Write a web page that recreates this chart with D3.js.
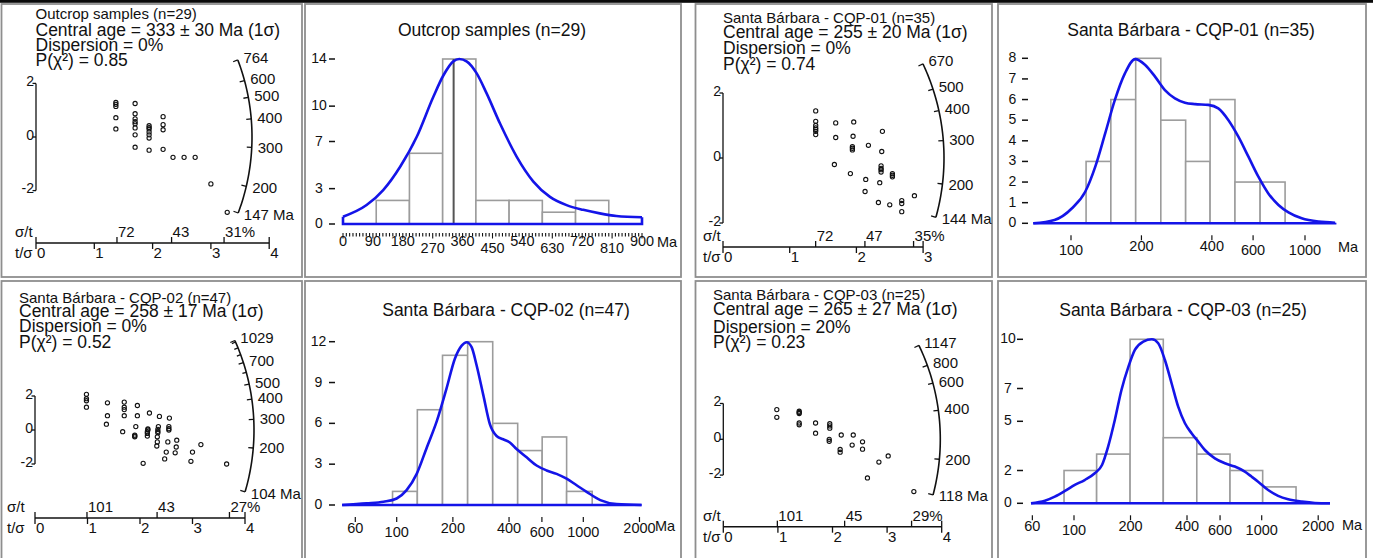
<!DOCTYPE html>
<html><head><meta charset="utf-8">
<script src="https://cdn.jsdelivr.net/npm/d3@7"></script>
<style>
html,body{margin:0;padding:0;background:#fff;overflow:hidden;}
svg{display:block;font-family:"Liberation Sans",Arial,Helvetica,sans-serif;}
</style></head><body>
<svg id="chart" width="1373" height="558"></svg>
<script>
// ===================== DATA =====================
// --- Outcrop samples ---
const outcropTitle = "Outcrop samples (n=29)";
const outcropStats = ["Central age = 333 ± 30 Ma (1σ)", "Dispersion = 0%", "P(χ²) = 0.85"];
const outcropCentral = 333;
const outcropPrecMax = 4;
const outcropSigmaTicks = [72, 43, 31];
const outcropArcTicks = [764, 600, 500, 400, 300, 200, 147];
const outcropArcMinor = [];
const outcropPrecision = [1.37,1.37,1.37,1.37,1.37, 1.70,1.70,1.70,1.70,1.70,1.70,1.70,1.70, 1.94,1.94,1.94,1.94,1.94,1.94,1.94, 2.18,2.18,2.18,2.18, 2.35,2.54,2.73,3.00,3.28];
const outcropStdEst = [1.29,1.22,1.14,0.72,0.30, 1.25,0.87,0.68,0.57,0.49,0.34,0.08,-0.38, 0.42,0.35,0.30,0.19,0.08,-0.04,-0.49, 0.76,0.46,0.27,-0.46, -0.76,-0.76,-0.76,-1.75,-2.81];
const outcropBinEdges = [100, 200, 300, 400, 500, 600, 700, 800];
const outcropCounts = [2, 6, 14, 2, 2, 1, 2];
const outcropCurveAge = [0, 71, 121, 172, 222, 272, 302, 332, 350, 372, 402, 432, 473, 523, 573, 623, 673, 723, 773, 823, 900];
const outcropCurveFreq = [0.62, 1.61, 2.88, 4.86, 7.40, 10.8, 12.6, 13.8, 14.0, 13.8, 12.8, 11.1, 8.5, 5.7, 3.6, 2.3, 1.6, 1.2, 0.9, 0.68, 0.57];
const outcropYTicks = [0, 3, 7, 10, 14];
const outcropXTicks = [0, 90, 180, 270, 360, 450, 540, 630, 720, 810, 900];

// --- Santa Bárbara - CQP-01 ---
const cqp01Title = "Santa Bárbara - CQP-01 (n=35)";
const cqp01Stats = ["Central age = 255 ± 20 Ma (1σ)", "Dispersion = 0%", "P(χ²) = 0.74"];
const cqp01Central = 255;
const cqp01PrecMax = 3;
const cqp01SigmaTicks = [72, 47, 35];
const cqp01ArcTicks = [670, 500, 400, 300, 200, 144];
const cqp01ArcMinor = [];
const cqp01Precision = [1.39,1.39,1.39,1.39,1.39,1.39,1.39, 1.69,1.69,1.67, 1.96,1.95,1.94,1.94,1.94,1.91, 2.18,2.14,2.13, 2.39,2.38,2.37,2.37,2.37,2.37,2.35,2.33, 2.54,2.54,2.54, 2.50, 2.68,2.68,2.68, 2.87];
const cqp01StdEst = [1.45,1.13,1.00,0.93,0.88,0.82,0.72, 1.08,0.63,-0.20, 1.11,0.67,0.35,0.30,0.25,-0.48, 0.39,-0.66,-1.03, 0.82,0.20,-0.24,-0.32,-0.36,-0.43,-0.76,-1.37, -0.48,-0.53,-0.58, -1.44, -1.31,-1.40,-1.65, -1.16];
const cqp01BinEdges = [116, 148, 189, 242, 309, 393, 502, 643, 822];
const cqp01Counts = [3, 6, 8, 5, 3, 6, 2, 2];
const cqp01CurveAge = [69, 85, 101, 115, 127, 140, 154, 170, 188, 207, 229, 252, 278, 307, 339, 386, 426, 470, 519, 573, 632, 697, 770, 850, 968, 1143, 1345];
const cqp01CurveFreq = [0, 0.16, 0.73, 1.53, 2.75, 4.36, 5.98, 7.27, 7.96, 7.69, 7.1, 6.46, 6.06, 5.85, 5.78, 5.74, 5.57, 5.01, 4.2, 3.23, 2.26, 1.45, 0.89, 0.53, 0.24, 0.08, 0.03];
const cqp01YTicks = [0, 1, 2, 3, 4, 5, 6, 7, 8];
const cqp01XTicks = [100, 200, 400, 600, 1000];

// --- Santa Bárbara - CQP-02 ---
const cqp02Title = "Santa Bárbara - CQP-02 (n=47)";
const cqp02Stats = ["Central age = 258 ± 17 Ma (1σ)", "Dispersion = 0%", "P(χ²) = 0.52"];
const cqp02Central = 258;
const cqp02PrecMax = 4;
const cqp02SigmaTicks = [101, 43, 27];
const cqp02ArcTicks = [1029, 700, 500, 400, 300, 200, 104];
const cqp02ArcMinor = [1000, 900, 800, 600];
const cqp02Precision = [0.98,0.98,0.98,0.98, 1.38,1.38,1.36, 1.70,1.70,1.70,1.70,1.67, 1.95,1.95,1.92,1.90,1.90,1.90, 2.18,2.15,2.15,2.14,2.14,2.14,2.06, 2.37,2.35,2.34,2.34,2.34,2.33,2.33,2.32,2.47, 2.56,2.55,2.55,2.55,2.53,2.50, 2.70,2.69,2.67, 3.00,2.97, 3.16, 3.65];
const cqp02StdEst = [2.10,1.84,1.72,1.34, 1.60,0.84,0.34, 1.64,1.34,1.20,0.84,-0.10, 1.44,0.84,0.20,-0.30,-0.35,-0.40, 1.00,0.06,0.00,-0.10,-0.20,-0.36,-1.96, 0.80,0.20,0.04,-0.08,-0.16,-0.40,-0.70,-0.94,-1.70, 0.70,0.20,0.08,0.00,-0.70,-1.30, -0.60,-1.00,-1.34, -1.30,-1.84, -0.86, -2.00];
const cqp02BinEdges = [95, 129, 176, 240, 327, 445, 602, 814, 1116];
const cqp02Counts = [1, 7, 11, 12, 6, 4, 5, 1];
const cqp02CurveAge = [51, 69, 85, 100, 113, 128, 145, 164, 185, 205, 223, 237, 252, 268, 291, 316, 343, 372, 404, 439, 497, 562, 636, 719, 814, 921, 1042, 1233, 1508, 2052];
const cqp02CurveFreq = [0, 0.12, 0.24, 0.48, 1.09, 2.29, 4.23, 6.16, 8.57, 10.75, 11.71, 11.96, 11.6, 10.27, 8.09, 5.92, 5.07, 4.83, 4.59, 4.11, 3.5, 2.9, 2.54, 2.29, 1.93, 1.45, 0.97, 0.36, 0.07, 0];
const cqp02YTicks = [0, 3, 6, 9, 12];
const cqp02XTicks = [60, 100, 200, 400, 600, 1000, 2000];

// --- Santa Bárbara - CQP-03 ---
const cqp03Title = "Santa Bárbara - CQP-03 (n=25)";
const cqp03Stats = ["Central age = 265 ± 27 Ma (1σ)", "Dispersion = 20%", "P(χ²) = 0.23"];
const cqp03Central = 265;
const cqp03PrecMax = 4;
const cqp03SigmaTicks = [101, 45, 29];
const cqp03ArcTicks = [1147, 800, 600, 400, 200, 118];
const cqp03ArcMinor = [];
const cqp03Precision = [0.98,0.98, 1.39,1.39,1.39,1.39,1.39, 1.69,1.69, 1.95,1.95,1.95,1.94,1.94, 2.16,2.14,2.14, 2.38,2.36, 2.55,2.55, 2.64, 2.85, 3.02, 3.49];
const cqp03StdEst = [1.66,1.23, 1.57,1.50,1.44,0.91,0.81, 0.91,0.34, 0.87,0.75,0.62,0.00,-0.11, 0.24,-0.57,-0.72, 0.24,-0.32, -0.14,-0.55, -2.16, -1.27, -0.93, -2.92];
const cqp03BinEdges = [88.5, 132, 199, 299, 451, 678, 1012, 1524];
const cqp03Counts = [2, 3, 10, 4, 3, 2, 1];
const cqp03CurveAge = [59, 70, 79, 90, 101, 114, 129, 141, 152, 165, 179, 195, 211, 234, 260, 281, 305, 331, 359, 390, 423, 459, 498, 563, 637, 719, 813, 882, 957, 1082, 1223, 1383, 1635, 1922, 2311];
const cqp03CurveFreq = [0, 0.16, 0.41, 0.77, 1.12, 1.42, 1.83, 2.34, 3.46, 5.08, 6.91, 8.33, 9.35, 9.86, 10, 9.76, 8.74, 7.32, 5.89, 4.88, 4.27, 3.76, 3.25, 2.74, 2.44, 2.24, 1.93, 1.63, 1.32, 0.81, 0.45, 0.24, 0.10, 0.02, 0];
const cqp03YTicks = [0, 2, 5, 7, 10];
const cqp03XTicks = [60, 100, 200, 400, 600, 1000, 2000];

// ===================== DRAWING =====================
const svg = d3.select("#chart");
const INK = "#111";
const BLUE = "#1414e8";

svg.append("rect").attr("x", 0).attr("y", 0).attr("width", 1373).attr("height", 2.8).attr("fill", "#0a0a0a");

const frames = [[1.5,4,302,277],[305,4,681,277],[695.5,4,992,277],[998,4,1366,277],
                [1.5,281,302,565],[305,281,681,565],[695.5,281,992,565],[998,281,1366,565]];
frames.forEach(f => svg.append("rect").attr("x", f[0]).attr("y", f[1]).attr("width", f[2]-f[0]).attr("height", f[3]-f[1])
  .attr("fill", "none").attr("stroke", "#8e8e8e").attr("stroke-width", 1.8));

function txt(g, x, y, s, size, anchor) {
  return g.append("text").attr("x", x).attr("y", y).attr("font-size", size).attr("fill", INK)
    .attr("text-anchor", anchor || "start").text(s);
}
function seg(g, x1, y1, x2, y2, w, col) {
  return g.append("line").attr("x1", x1).attr("y1", y1).attr("x2", x2).attr("y2", y2)
    .attr("stroke", col || INK).attr("stroke-width", w || 1.3);
}

function drawRadial(L, D) {
  const g = svg.append("g");
  const x = d3.scaleLinear().domain([0, D.precMax]).range([L.ox, L.ox + D.precMax * L.kx]);
  const y = d3.scaleLinear().domain([-2, 2]).range([L.oy + 2 * L.ky, L.oy - 2 * L.ky]);
  txt(g, L.tx, L.ty[0], D.title, 15);
  D.stats.forEach((s, i) => txt(g, L.tx, L.ty[i + 1], s, 17.5));
  // z axis
  seg(g, x(0), y(2), x(0), y(-2), 1.3);
  [2, 0, -2].forEach(v => {
    seg(g, x(0) - 3.5, y(v), x(0), y(v), 1.3);
    txt(g, x(0) - 2, y(v) + 2.5, String(v), 14, "end");
  });
  // precision axis
  seg(g, x(0), L.ay, x(D.precMax), L.ay, 1.5);
  d3.range(0, D.precMax + 1).forEach(v => {
    const end = (v === 0 || v === D.precMax);
    seg(g, x(v), end ? L.ay - 6 : L.ay, x(v), L.ay + 6, 1.3);
    txt(g, x(v) + 1, L.ay + 15, String(v), 15);
  });
  D.sigmaTicks.forEach((s, i) => {
    const xv = x(100 / s);
    seg(g, xv, L.ay - 6, xv, L.ay, 1.3);
    txt(g, xv + 1, L.ay - 6, i === D.sigmaTicks.length - 1 ? s + "%" : String(s), 15);
  });
  txt(g, L.sx, L.ay - 6, "σ/t", 15);
  txt(g, L.sx, L.ay + 15, "t/σ", 15);
  // age arc
  const z0 = Math.log(D.central);
  const ang = t => Math.atan2(y(0) - y(Math.log(t) - z0), x(1) - x(0));
  const a0 = ang(d3.max(D.arcTicks)), a1 = ang(d3.min(D.arcTicks));
  const arcPts = d3.range(0, 1.0001, 0.02).map(f => {
    const a = a0 + (a1 - a0) * f;
    return [x(0) + L.R * Math.cos(a), y(0) - L.R * Math.sin(a)];
  });
  g.append("path").attr("d", d3.line()(arcPts)).attr("fill", "none").attr("stroke", INK).attr("stroke-width", 1.6);
  const tick = (t, len) => {
    const a = ang(t);
    seg(g, x(0) + (L.R - len) * Math.cos(a), y(0) - (L.R - len) * Math.sin(a),
           x(0) + L.R * Math.cos(a), y(0) - L.R * Math.sin(a), 1.3);
    return a;
  };
  D.arcMinor.forEach(t => tick(t, 4));
  const tMin = d3.min(D.arcTicks);
  D.arcTicks.forEach(t => {
    const a = tick(t, 5);
    txt(g, x(0) + (L.R + 6) * Math.cos(a), y(0) - (L.R + 6) * Math.sin(a) + 5,
        t === tMin ? t + " Ma" : String(t), 15);
  });
  // points
  g.selectAll("circle.pt").data(D.prec.map((p, i) => [p, D.est[i]])).enter().append("circle")
    .attr("cx", d => x(d[0])).attr("cy", d => y(d[1])).attr("r", 2.1)
    .attr("fill", "none").attr("stroke", INK).attr("stroke-width", 1.1);
}

function drawHist(L, D) {
  const g = svg.append("g");
  const x = (D.log ? d3.scaleLog() : d3.scaleLinear()).domain(L.xd).range(L.xr);
  const y = d3.scaleLinear().domain([0, d3.max(D.yTicks)]).range([L.base, L.top]);
  txt(g, L.titleX, L.titleY, D.title, 17.5, "middle");
  // bars
  D.counts.forEach((c, i) => {
    g.append("rect").attr("x", x(D.edges[i])).attr("y", y(c))
      .attr("width", x(D.edges[i + 1]) - x(D.edges[i])).attr("height", y(0) - y(c))
      .attr("fill", "#fff").attr("stroke", "#9c9c9c").attr("stroke-width", 1.6);
  });
  if (D.centralLine) seg(g, x(D.centralLine), y(d3.max(D.counts)), x(D.centralLine), y(0), 2, "#555");
  // curve
  const pts = D.curveAge.map((a, i) => [x(a), y(D.curveFreq[i])]);
  g.append("path").attr("d", d3.line().curve(d3.curveMonotoneX)(pts))
    .attr("fill", "none").attr("stroke", BLUE).attr("stroke-width", 2.6);
  const last = pts[pts.length - 1];
  g.append("path").attr("d", d3.line()([pts[0], [pts[0][0], y(0)], [last[0], y(0)], last]))
    .attr("fill", "none").attr("stroke", BLUE).attr("stroke-width", 2.6);
  // y ticks
  D.yTicks.forEach(v => {
    seg(g, L.dash[0], y(v), L.dash[1], y(v), 1.5);
    txt(g, L.yLabX, y(v) + 4, String(v), 14, "middle");
  });
  // x ticks
  if (D.log) {
    D.xTicks.forEach(v => {
      seg(g, x(v), L.base + 12, x(v), L.base + 17, 1.2);
      const low = (v === 100 || v === 600 || v === 1000) ? 3.5 : 0;
      txt(g, x(v), L.base + 28 + low, String(v), 14.5, "middle");
    });
  } else {
    d3.range(L.xd[0], L.xd[1] + 1, 10).forEach(v => {
      const major = D.xTicks.indexOf(v) >= 0;
      seg(g, x(v), L.base + 9, x(v), L.base + (major ? 14.5 : 12.5), 1.1);
    });
    D.xTicks.forEach((v, i) => {
      const low = (i >= 3 && i % 2 === 1) ? 7 : 0;
      txt(g, x(v), L.base + 22 + low, String(v), 14.5, "middle");
    });
  }
  txt(g, L.maX, L.maY, "Ma", 14.5);
}

// ---- layouts (pixel positions) ----
drawRadial({ox: 36, oy: 137, kx: 58.3, ky: 26.8, ay: 243, R: 216, tx: 35.5, ty: [19.3, 36, 50.7, 65.7], sx: 15},
  {title: outcropTitle, stats: outcropStats, central: outcropCentral, precMax: outcropPrecMax, sigmaTicks: outcropSigmaTicks,
   arcTicks: outcropArcTicks, arcMinor: outcropArcMinor, prec: outcropPrecision, est: outcropStdEst});
drawRadial({ox: 723, oy: 158, kx: 66.7, ky: 32.5, ay: 247, R: 221, tx: 723, ty: [23, 37.7, 54.3, 70], sx: 703},
  {title: cqp01Title, stats: cqp01Stats, central: cqp01Central, precMax: cqp01PrecMax, sigmaTicks: cqp01SigmaTicks,
   arcTicks: cqp01ArcTicks, arcMinor: cqp01ArcMinor, prec: cqp01Precision, est: cqp01StdEst});
drawRadial({ox: 35, oy: 430, kx: 52.5, ky: 17.0, ay: 518, R: 219, tx: 19, ty: [303.3, 316.7, 331.7, 348.3], sx: 7},
  {title: cqp02Title, stats: cqp02Stats, central: cqp02Central, precMax: cqp02PrecMax, sigmaTicks: cqp02SigmaTicks,
   arcTicks: cqp02ArcTicks, arcMinor: cqp02ArcMinor, prec: cqp02Precision, est: cqp02StdEst});
drawRadial({ox: 723.3, oy: 439.3, kx: 54.6, ky: 17.9, ay: 526.7, R: 217, tx: 713, ty: [300, 315, 332.7, 348.3], sx: 703},
  {title: cqp03Title, stats: cqp03Stats, central: cqp03Central, precMax: cqp03PrecMax, sigmaTicks: cqp03SigmaTicks,
   arcTicks: cqp03ArcTicks, arcMinor: cqp03ArcMinor, prec: cqp03Precision, est: cqp03StdEst});

drawHist({xd: [0, 900], xr: [343, 642], base: 224, top: 59, titleX: 492, titleY: 35.5, yLabX: 319, dash: [329, 335], maX: 657, maY: 247},
  {title: outcropTitle, log: false, edges: outcropBinEdges, counts: outcropCounts, curveAge: outcropCurveAge, curveFreq: outcropCurveFreq,
   yTicks: outcropYTicks, xTicks: outcropXTicks, centralLine: outcropCentral});
drawHist({xd: [100, 1000], xr: [1071, 1305], base: 223.3, top: 58.3, titleX: 1191, titleY: 35.5, yLabX: 1012.5, dash: [1022, 1028], maX: 1338, maY: 252},
  {title: cqp01Title, log: true, edges: cqp01BinEdges, counts: cqp01Counts, curveAge: cqp01CurveAge, curveFreq: cqp01CurveFreq,
   yTicks: cqp01YTicks, xTicks: cqp01XTicks});
drawHist({xd: [100, 1000], xr: [396.7, 583.3], base: 505, top: 341.7, titleX: 506, titleY: 315.5, yLabX: 318.5, dash: [329, 335], maX: 655, maY: 531},
  {title: cqp02Title, log: true, edges: cqp02BinEdges, counts: cqp02Counts, curveAge: cqp02CurveAge, curveFreq: cqp02CurveFreq,
   yTicks: cqp02YTicks, xTicks: cqp02XTicks});
drawHist({xd: [100, 1000], xr: [1074, 1261.7], base: 503.3, top: 339.3, titleX: 1183, titleY: 315.5, yLabX: 1008, dash: [1017, 1023], maX: 1342, maY: 530},
  {title: cqp03Title, log: true, edges: cqp03BinEdges, counts: cqp03Counts, curveAge: cqp03CurveAge, curveFreq: cqp03CurveFreq,
   yTicks: cqp03YTicks, xTicks: cqp03XTicks});
</script>
</body></html>
